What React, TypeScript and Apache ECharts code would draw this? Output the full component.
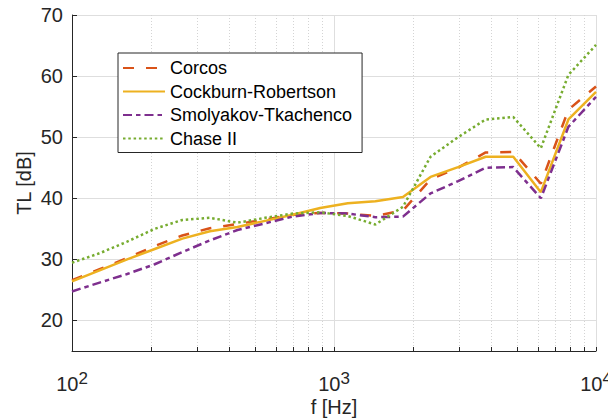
import React, { useEffect, useRef } from 'react';
import * as echarts from 'echarts';

// Frequencies (Hz), 20 log-spaced points from 100 Hz to 10 kHz
const freqHz = [100, 127.43, 162.38, 206.91, 263.67, 335.98, 428.13, 545.56, 695.19, 885.87,
  1128.8, 1438.4, 1833.0, 2335.7, 2976.4, 3792.7, 4832.9, 6158.5, 7847.6, 10000];

const corcos = [26.6, 28.4, 30.2, 32.2, 33.9, 35.1, 35.8, 36.5, 37.3, 37.6,
  37.5, 37.1, 38.0, 43.1, 45.0, 47.5, 47.6, 42.4, 54.5, 58.3];
const cockburnRobertson = [26.4, 28.2, 30.0, 31.7, 33.4, 34.6, 35.3, 36.3, 37.3, 38.4,
  39.2, 39.5, 40.2, 43.5, 45.1, 46.8, 46.8, 41.0, 52.9, 57.4];
const smolyakovTkachenco = [24.75, 26.2, 27.6, 29.2, 31.2, 33.1, 34.8, 35.9, 37.0, 37.6,
  37.5, 36.9, 37.0, 40.8, 42.8, 45.0, 45.1, 40.0, 51.7, 56.6];
const chaseII = [29.45, 31.0, 32.9, 35.0, 36.45, 36.8, 36.0, 36.8, 37.5, 37.7,
  37.1, 35.7, 38.6, 46.8, 50.0, 52.9, 53.3, 48.2, 60.2, 65.1];

const seriesNames = ['Corcos', 'Cockburn-Robertson', 'Smolyakov-Tkachenco', 'Chase II'];
const minorTickHz = [200, 300, 400, 500, 600, 700, 800, 900, 2000, 3000, 4000, 5000, 6000, 7000, 8000, 9000];

const FONT = '"Liberation Sans", Arial, Helvetica, sans-serif';
const AXIS_COLOR = '#262626';

export default function App() {
  const ref = useRef<HTMLDivElement>(null);

  useEffect(() => {
    const chart = echarts.init(ref.current!, null, { renderer: 'svg' });
    const pairs = (ys: number[]) => freqHz.map((f, i) => [f, ys[i]]);

    const lineSeries = (name: string, ys: number[], color: string, type: any) => ({
      name,
      type: 'line',
      data: pairs(ys),
      xAxisIndex: 0,
      yAxisIndex: 0,
      symbol: 'none',
      color,
      lineStyle: { color, width: 2.5, type, cap: 'butt' },
    });

    chart.setOption({
      animation: false,
      backgroundColor: '#ffffff',
      textStyle: { fontFamily: FONT },
      grid: { left: 72, top: 15, width: 524, height: 336, containLabel: false, outerBoundsMode: 'none' },
      legend: {
        orient: 'vertical',
        left: 118,
        top: 53,
        itemWidth: 42,
        itemHeight: 14,
        itemGap: 3.5,
        padding: [5, 10, 4, 4],
        backgroundColor: '#ffffff',
        borderColor: AXIS_COLOR,
        borderWidth: 1,
        borderRadius: 0,
        itemStyle: { opacity: 0 },
        textStyle: { fontSize: 18, color: '#000000', fontFamily: FONT, lineHeight: 20 },
        data: seriesNames,
      },
      xAxis: [
        {
          type: 'log',
          logBase: 10,
          min: 100,
          max: 10000,
          position: 'bottom',
          name: 'f [Hz]',
          nameLocation: 'middle',
          nameGap: 46,
          nameMoveOverlap: false,
          nameTextStyle: { fontSize: 20, color: AXIS_COLOR, fontFamily: FONT },
          axisLine: { show: true, onZero: false, lineStyle: { color: AXIS_COLOR, width: 1 } },
          axisTick: { show: true, inside: true, length: 4, lineStyle: { color: AXIS_COLOR } },
          axisLabel: {
            margin: 19,
            formatter: (v: number) => `{b|10}{s|${Math.round(Math.log10(v))}}`,
            rich: {
              b: { fontSize: 20, lineHeight: 24, verticalAlign: 'bottom', color: AXIS_COLOR, fontFamily: FONT },
              s: { fontSize: 17, lineHeight: 17, verticalAlign: 'top', color: AXIS_COLOR, fontFamily: FONT },
            },
          },
          splitLine: { show: true, lineStyle: { color: '#dedede', width: 1 } },
        },
        {
          type: 'log',
          logBase: 10,
          min: 100,
          max: 10000,
          position: 'bottom',
          axisLine: { show: false },
          axisLabel: { show: false },
          axisTick: { show: true, inside: true, length: 4, customValues: minorTickHz, lineStyle: { color: AXIS_COLOR } },
          splitLine: { show: true, lineStyle: { color: '#d4d4d4', width: 1, type: [1, 2] } },
        },
      ],
      yAxis: {
        type: 'value',
        min: 15,
        max: 70,
        splitNumber: 5,
        name: 'TL [dB]',
        nameLocation: 'middle',
        nameGap: 38,
        nameMoveOverlap: false,
        nameRotate: 90,
        nameTextStyle: { fontSize: 20, color: AXIS_COLOR, fontFamily: FONT },
        axisLine: { show: true, lineStyle: { color: AXIS_COLOR, width: 1 } },
        axisTick: { show: true, inside: true, length: 5, lineStyle: { color: AXIS_COLOR } },
        axisLabel: {
          fontSize: 20,
          color: AXIS_COLOR,
          margin: 9,
          showMinLabel: false,
          formatter: (v: number) => (v % 10 === 0 ? String(v) : ''),
        },
        splitLine: { show: true, lineStyle: { color: '#dedede', width: 1 } },
      },
      series: [
        lineSeries(seriesNames[0], corcos, '#D95319', [11, 12]),
        lineSeries(seriesNames[1], cockburnRobertson, '#EDB120', 'solid'),
        lineSeries(seriesNames[2], smolyakovTkachenco, '#7E2F8E', [9, 4, 4.5, 4]),
        lineSeries(seriesNames[3], chaseII, '#77AC30', [2.5, 2.8]),
      ],
    });

    return () => chart.dispose();
  }, []);

  return (
    <div
      ref={ref}
      style={{ position: 'fixed', left: 0, top: 0, width: 608, height: 420 }}
    />
  );
}
